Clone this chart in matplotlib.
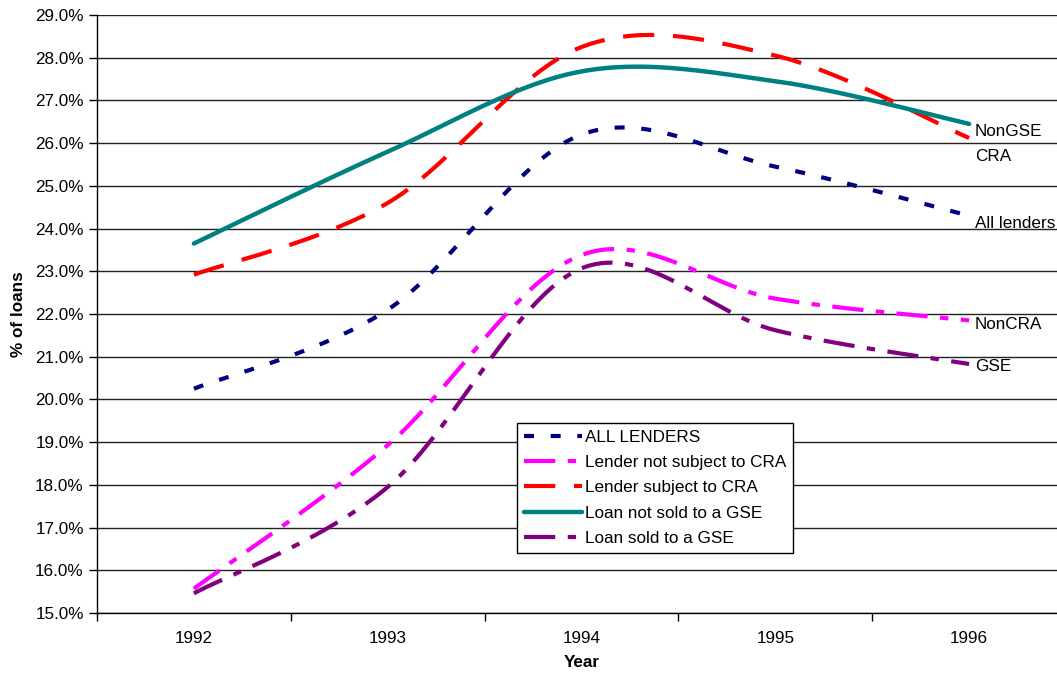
import numpy as np
import matplotlib
matplotlib.use("Agg")
import matplotlib.pyplot as plt
from matplotlib.ticker import FixedLocator, PercentFormatter

plt.rcParams['font.family'] = ['Liberation Sans', 'DejaVu Sans']

years = [1992, 1993, 1994, 1995, 1996]

# % of loans
all_lenders = [20.25, 22.1, 26.2, 25.45, 24.3]
non_cra = [15.57, 18.93, 23.38, 22.36, 21.85]
cra = [22.92, 24.6, 28.25, 28.05, 26.12]
non_gse = [23.65, 25.8, 27.68, 27.45, 26.45]
gse = [15.46, 17.95, 23.07, 21.62, 20.83]

legend_labels = ["ALL LENDERS", "Lender not subject to CRA", "Lender subject to CRA",
                 "Loan not sold to a GSE", "Loan sold to a GSE"]
end_labels = ["All lenders", "NonCRA", "CRA", "NonGSE", "GSE"]
end_label_y = [24.12, 21.76, 25.69, 26.28, 20.78]

FS = 12.3


def smooth(xs, ys, n=40):
    # excel-style smoothed line: catmull-rom segments drawn as bezier curves
    p = np.column_stack([xs, ys]).astype(float)
    p = np.vstack([p[0], p, p[-1]])
    out = []
    for i in range(1, len(p) - 2):
        b0 = p[i]
        b1 = p[i] + (p[i + 1] - p[i - 1]) / 6.0
        b2 = p[i + 1] - (p[i + 2] - p[i]) / 6.0
        b3 = p[i + 1]
        t = np.linspace(0, 1, n)[:, None]
        seg = ((1 - t) ** 3) * b0 + 3 * ((1 - t) ** 2) * t * b1 + 3 * (1 - t) * t ** 2 * b2 + t ** 3 * b3
        out.append(seg if i == 1 else seg[1:])
    out = np.vstack(out)
    return out[:, 0], out[:, 1]


fig = plt.figure(figsize=(10.57, 6.75), dpi=100)
ax = fig.add_axes([97 / 1057, 62 / 675, 969 / 1057, 598 / 675])

series = [
    (all_lenders, dict(color='#000080', lw=3.0, dashes=(2.4, 4.0))),
    (non_cra, dict(color='#FF00FF', lw=3.0, dashes=(7.5, 3.0, 2.0, 3.0))),
    (cra, dict(color='#FF0000', lw=3.0, dashes=(7.5, 4.5))),
    (non_gse, dict(color='#008080', lw=3.2, solid_capstyle='round')),
    (gse, dict(color='#800080', lw=3.0, dashes=(7.5, 3.0, 2.0, 3.0))),
]
for (vals, style), lab in zip(series, legend_labels):
    sx, sy = smooth(years, vals)
    ax.plot(sx, sy, label=lab, **style)

for lab, yy in zip(end_labels, end_label_y):
    ax.text(years[-1] + 0.03, yy, lab, fontsize=FS, ha='left', va='center', clip_on=False)

ax.set_xlim(1991.5, 1996.5)
ax.set_ylim(15, 29)
ax.yaxis.set_major_locator(FixedLocator(np.arange(15, 29.5, 1)))
ax.yaxis.set_major_formatter(PercentFormatter(decimals=1))
ax.set_xticks(years)
ax.set_xticklabels([str(y) for y in years])
ax.xaxis.set_minor_locator(FixedLocator(np.arange(1991.5, 1997, 1)))
ax.tick_params(axis='x', which='major', length=0, pad=13, labelsize=FS)
ax.tick_params(axis='x', which='minor', length=6, width=1, direction='out')
ax.tick_params(axis='y', length=6, width=1, direction='out', pad=3.5, labelsize=FS)

ax.grid(axis='y', color='#222222', lw=1.0)
ax.set_axisbelow(True)
for s in ['top', 'right']:
    ax.spines[s].set_visible(False)
ax.spines['left'].set_linewidth(1.0)
ax.spines['bottom'].set_linewidth(1.0)

ax.set_xlabel("Year", fontsize=FS, fontweight='bold')
ax.set_ylabel("% of loans", fontsize=FS, fontweight='bold')
ax.xaxis.set_label_coords(0.5, -0.0836)
ax.xaxis.label.set_va('center')
ax.yaxis.set_label_coords(-0.0815, 0.5)
ax.yaxis.label.set_va('center')

leg = ax.legend(loc='upper left', bbox_to_anchor=(0.4334, 0.3177), borderaxespad=0,
                fontsize=FS, handlelength=3.4, handletextpad=0.2, labelspacing=0.6,
                borderpad=0.4, fancybox=False, framealpha=1, edgecolor='black')
leg.get_frame().set_linewidth(1.0)

fig.savefig("out.png", dpi=100)
